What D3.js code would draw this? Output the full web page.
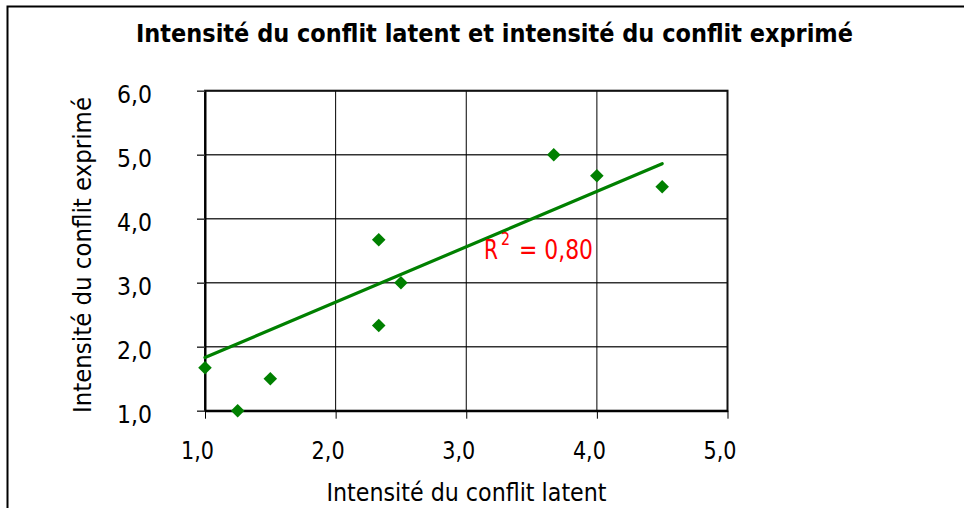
<!DOCTYPE html>
<html><head><meta charset="utf-8">
<script src="https://cdn.jsdelivr.net/npm/d3@7"></script>
<style>
html,body{margin:0;padding:0;background:#fff;overflow:hidden;}
text{font-family:"DejaVu Sans",Verdana,sans-serif;}
</style></head>
<body>
<svg id="chart" width="964" height="508"></svg>
<script>
// ---- data ----
const latent   = [1.0, 1.25, 1.5, 2.33, 2.33, 2.5, 3.67, 4.0, 4.5];
const exprime  = [1.67, 1.0, 1.5, 3.67, 2.33, 3.0, 5.0, 4.67, 4.5];
const trendX   = [1.0, 4.5];
const trendY   = [1.83, 4.86];
const xTicks   = [1, 2, 3, 4, 5];
const yTicks   = [1, 2, 3, 4, 5, 6];
const title    = "Intensité du conflit latent et intensité du conflit exprimé";
const xTitle   = "Intensité du conflit latent";
const yTitle   = "Intensité du conflit exprimé";
const r2Label  = "= 0,80";

const svg = d3.select("#chart");
const green = "#008000";

// outer frame (open to the right / bottom like the crop)
svg.append("rect").attr("x", 7.5).attr("y", 6.5).attr("width", 1000).attr("height", 600)
  .attr("fill", "none").attr("stroke", "#000").attr("stroke-width", 2);

const L = 205, T = 90.7, W = 522.5, H = 320;
const x = d3.scaleLinear().domain([1, 5]).range([L, L + W]);
const y = d3.scaleLinear().domain([1, 6]).range([T + H, T]);
const fmt = d => d.toFixed(1).replace(".", ",");

// grid
svg.append("g").selectAll("line").data(yTicks).join("line")
  .attr("x1", L).attr("x2", L + W).attr("y1", d => y(d)).attr("y2", d => y(d))
  .attr("stroke", "#333").attr("stroke-width", 1.5);
svg.append("g").selectAll("line").data(xTicks).join("line")
  .attr("y1", T).attr("y2", T + H).attr("x1", d => x(d)).attr("x2", d => x(d))
  .attr("stroke", "#000").attr("stroke-width", 1);

// plot border
svg.append("rect").attr("x", L).attr("y", T).attr("width", W).attr("height", H)
  .attr("fill", "none").attr("stroke", "#111").attr("stroke-width", 2);

// axes
const xAxis = svg.append("g").attr("transform", `translate(0,${T + H})`)
  .call(d3.axisBottom(x).tickValues(xTicks).tickSize(8).tickSizeOuter(0).tickFormat(fmt));
xAxis.select(".domain").attr("stroke", "#000").attr("stroke-width", 2);
xAxis.selectAll(".tick line").attr("stroke", "#000").attr("stroke-width", 1);
xAxis.selectAll(".tick text").attr("dy", null).attr("y", 48.5).attr("x", -8)
  .attr("font-size", 24).attr("fill", "#000").attr("font-family", "DejaVu Sans")
  .attr("textLength", 33).attr("lengthAdjust", "spacingAndGlyphs");

const yAxis = svg.append("g").attr("transform", `translate(${L},0)`)
  .call(d3.axisLeft(y).tickValues(yTicks).tickSize(8).tickSizeOuter(0).tickFormat(fmt));
yAxis.select(".domain").attr("stroke", "#000").attr("stroke-width", 2);
yAxis.selectAll(".tick line").attr("stroke", "#333").attr("stroke-width", 1.5);
yAxis.selectAll(".tick text").attr("dy", null).attr("y", 12).attr("x", -53)
  .attr("font-size", 24).attr("fill", "#000").attr("font-family", "DejaVu Sans")
  .attr("textLength", 35).attr("lengthAdjust", "spacingAndGlyphs");

// trend line
svg.append("line")
  .attr("x1", x(trendX[0])).attr("y1", y(trendY[0]))
  .attr("x2", x(trendX[1])).attr("y2", y(trendY[1]))
  .attr("stroke", green).attr("stroke-width", 3.2).attr("stroke-linecap", "round");

// points (diamonds)
const sq = d3.symbol().type(d3.symbolSquare).size(92);
svg.append("g").selectAll("path").data(latent.map((v, i) => [v, exprime[i]])).join("path")
  .attr("d", sq)
  .attr("transform", d => `translate(${x(d[0])},${y(d[1])}) rotate(45)`)
  .attr("fill", green);

// R² label (three adjacent pieces)
svg.append("text").attr("x", 484).attr("y", 258.5).attr("font-size", 26).attr("fill", "#ff0000")
  .attr("textLength", 14).attr("lengthAdjust", "spacingAndGlyphs").text("R");
svg.append("text").attr("x", 501).attr("y", 245).attr("font-size", 18).attr("fill", "#ff0000")
  .attr("textLength", 9).attr("lengthAdjust", "spacingAndGlyphs").text("2");
svg.append("text").attr("x", 519).attr("y", 258.5).attr("font-size", 26).attr("fill", "#ff0000")
  .attr("textLength", 74).attr("lengthAdjust", "spacingAndGlyphs").text(r2Label);

// titles
svg.append("text").attr("x", 136).attr("y", 42).attr("font-size", 24).attr("font-weight", "bold")
  .attr("fill", "#000").attr("textLength", 717).attr("lengthAdjust", "spacingAndGlyphs").text(title);
svg.append("text").attr("x", 326.5).attr("y", 500.5).attr("font-size", 24)
  .attr("fill", "#000").attr("textLength", 280).attr("lengthAdjust", "spacingAndGlyphs").text(xTitle);
svg.append("text").attr("transform", "translate(91,413) rotate(-90)").attr("font-size", 24)
  .attr("fill", "#000").attr("textLength", 316).attr("lengthAdjust", "spacingAndGlyphs").text(yTitle);
</script>
</body></html>
